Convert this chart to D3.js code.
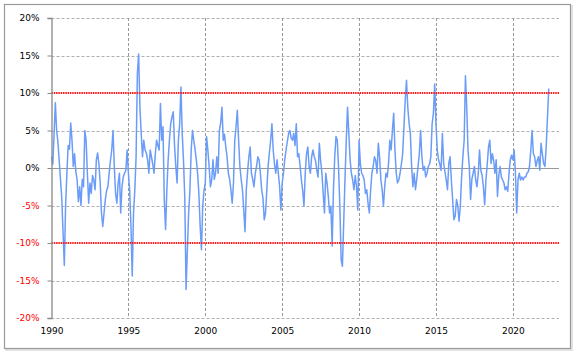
<!DOCTYPE html>
<html lang="en">
<head>
<meta charset="UTF-8">
<script src="https://d3js.org/d3.v7.min.js"></script>
<style>
  body { margin: 0; background: #fff; }
  svg text { font-family: "DejaVu Sans", Verdana, sans-serif; font-size: 9px; }
</style>
</head>
<body>
<script>
// monthly values (%), starting Jan 1990
const startYear = 1990;
const vals1990s = [
  1.5, 0.5, 4.5, 8.7, 5, 3.5, 1, -1.5, -4, -8.5, -13, -5,
  -0.7, 3, 2.5, 6, 3.7, 0.2, 1.9, -0.5, -1.6, -4.5, -2.5, -5,
  -1.5, -2.5, 5, 3.7, -0.7, -4.7, -2, -3.4, -1, -1.6, -2.9, 1.1,
  2, 0.5, -2, -6, -7.8, -6, -4.2, -3, -2.5, -0.7, 1, 2.4,
  5, 0.2, -3.4, -4.7, -2, -0.7, -6, -2.5, -1.2, -0.7, -0.3, 2.4,
  -0.7, -3, -7.8, -14.4, -6, -3, 1.5, 12.6, 15.2, 8, 4.6, 1.5,
  3.7, 2.4, 2, 1.1, -0.7, 2.4, 1.5, 0.5, -0.7, 1.9, 3.7, 3,
  2.4, 8.6, 3.7, 5.5, -4.2, -8.2, -2.9, 1, 3.7, 5.9, 6.8, 7.5,
  3, 0.2, -2, 3.7, 5.9, 10.8, 4.6, 1, -4, -16.2, -11, -6,
  -3, 2.4, 5, 3.7, 2.5, 1.1, -0.7, -3.4, -7.8, -10.9, -5.1, -3
];
const vals2000s = [
  -2, 4.2, 2.4, 0.2, -2.5, -1.6, 1.1, -1.5, -0.7, 1.5, -0.7, 5,
  6, 8.1, 3.7, 4.5, 2.8, 1.5, -0.7, -1.5, -2.9, -4.7, -2, 3.7,
  5.5, 7.7, 3.7, 0.2, -1.5, -2.9, -5.6, -8.5, -2.9, -0.5, 1.5, 2.8,
  -0.7, -1.5, -2.5, -0.7, 0.2, 1.5, 1.1, -0.7, -2.9, -4, -6.9, -6,
  -2.9, 0.2, 2, 3.7, 5.9, 2.4, 0.5, -0.7, 1.1, -0.7, -2.5, -5.6,
  -2, -0.7, 1.1, 2.4, 3.5, 4.6, 5, 4, 3.7, 4.6, 3, 5.9,
  1.5, 1.9, 0.2, -1.6, -3, -5.1, -0.7, 1.9, 2.8, 0.2, -0.7, 1.5,
  2.4, 1.5, 1, -0.3, -1.2, 3.3, 1, -0.7, -3.4, -6, -0.7, -2,
  -3.8, -6, -5.1, -10.4, -2.9, 1.5, 4.2, 3.7, 0, -5.1, -12.2, -13.1,
  -7.3, -1.6, 3.7, 8.1, 4.6, 1.1, -0.7, -1.6, -2.9, -1, -2.5, -5.6
];
const vals2010s = [
  3.7, 0.6, -0.7, -1, -1.6, -3.4, -2.9, -4.7, -6, -3, -0.7, 0.2,
  1.5, 1, -0.7, 3.3, 1.5, -1.6, -2.9, -5.1, -2.5, -0.7, -1.2, 0.6,
  3.7, 2.4, 5, 7.3, 2.4, -0.7, -2, -1.6, -0.7, 0.5, 1.9, 5.5,
  9, 11.7, 8.1, 6, 4.6, 0.2, -2.5, -0.7, -2.9, -1.5, 0.2, 1.9,
  5, 1.5, -0.3, 0.2, -1.2, -0.7, 0.2, 0.5, 1.5, 5.9, 7.3, 11.2,
  5.9, 2.4, 1.1, 0.5, -0.3, 4.6, 0.6, -0.5, -1.6, -2.9, 0.6, 1.5,
  -1.6, -4.2, -6.9, -6.4, -4.2, -5, -7.1, -5.1, -1.2, 1.5, 3.7, 12.3,
  8.1, 2.4, 0.2, -4.2, -1.5, -0.7, 0.2, -1.6, -2.5, -0.7, 2.4, -0.3,
  -1, -2.5, -4.9, -1.6, 0.5, 2.8, 3.7, 0.6, 1.9, 1, -0.7, 1.1,
  -3.8, -1, 0.2, -1.2, -1.6, -2, -2.9, -2.5, -3.1, -0.7, 1.1, 1.7
];
const vals2020s = [
  1.1, 2.4, -0.7, -6, -1.6, -0.7, -1.6, -1.2, -1.6, -1.2, -1.2, -0.7,
  -0.5, 0.2, 2.4, 5, 1.9, 1.5, 0.2, 1, 1.5, -0.3, 3.3, 1.9,
  0.6, 0.2, 2.8, 6.8, 10.6
];
const yTicks = [20, 15, 10, 5, 0, -5, -10, -15, -20];
const xTicks = [1990, 1995, 2000, 2005, 2010, 2015, 2020];
const limitLines = [10, -10];

const width = 576, height = 354;
const plot = { left: 51.5, right: 559, top: 18, bottom: 318 };

const series = vals1990s.concat(vals2000s, vals2010s, vals2020s)
  .map((v, i) => ({ t: startYear + i / 12, v: v }));

const x = d3.scaleLinear().domain([1990, 2023]).range([plot.left, plot.right]);
const y = d3.scaleLinear().domain([-20, 20]).range([plot.bottom, plot.top]);

const svg = d3.select("body").append("svg")
  .attr("width", width)
  .attr("height", height);

// frame with light shadow
svg.append("rect")
  .attr("x", 6).attr("y", 6).attr("width", 566).attr("height", 344)
  .attr("fill", "none").attr("stroke", "#dcdcdc").attr("stroke-width", 1.5);
svg.append("rect")
  .attr("x", 4.5).attr("y", 4.5).attr("width", 566).attr("height", 344)
  .attr("fill", "#fff").attr("stroke", "#999").attr("stroke-width", 1.2);

// horizontal grid
svg.append("g").selectAll("line")
  .data(yTicks.filter(d => d !== 0 && Math.abs(d) !== 10))
  .join("line")
  .attr("x1", plot.left).attr("x2", plot.right)
  .attr("y1", d => Math.round(y(d)) + 0.5).attr("y2", d => Math.round(y(d)) + 0.5)
  .attr("stroke", "#b0b0b0").attr("stroke-dasharray", "3,2");

// vertical grid
svg.append("g").selectAll("line")
  .data(xTicks.filter(d => d !== 1990))
  .join("line")
  .attr("x1", d => Math.round(x(d)) + 0.5).attr("x2", d => Math.round(x(d)) + 0.5)
  .attr("y1", plot.top).attr("y2", plot.bottom)
  .attr("stroke", "#999").attr("stroke-dasharray", "3,2");

// zero line
svg.append("line")
  .attr("x1", plot.left).attr("x2", plot.right)
  .attr("y1", Math.round(y(0)) + 0.5).attr("y2", Math.round(y(0)) + 0.5)
  .attr("stroke", "#999").attr("stroke-width", 1);

// series
const line = d3.line().x(d => x(d.t)).y(d => y(d.v));
svg.append("path")
  .datum(series)
  .attr("d", line)
  .attr("fill", "none")
  .attr("stroke", "#6b9cf8")
  .attr("stroke-width", 1.5)
  .attr("stroke-linejoin", "round");

// +/-10% limit lines
svg.append("g").selectAll("line")
  .data(limitLines)
  .join("line")
  .attr("x1", plot.left).attr("x2", plot.right)
  .attr("y1", d => y(d)).attr("y2", d => y(d))
  .attr("stroke", "#ff1a1a").attr("stroke-width", 2.2)
  .attr("stroke-dasharray", "1.5,0.8");

// y axis
const yAxis = svg.append("g")
  .attr("transform", `translate(${plot.left},0)`)
  .call(d3.axisLeft(y).tickValues(yTicks).tickSize(4).tickPadding(8)
    .tickFormat(d => d + "%"));
yAxis.select(".domain").attr("stroke", "#888").attr("stroke-width", 1.3);
yAxis.selectAll(".tick line").attr("stroke", "#888");
yAxis.selectAll(".tick text")
  .attr("fill", d => d < 0 ? "#ff0000" : "#000");

// x axis labels
const xAxis = svg.append("g")
  .attr("transform", `translate(0,${plot.bottom})`)
  .call(d3.axisBottom(x).tickValues(xTicks).tickSize(0).tickPadding(10)
    .tickFormat(d3.format("d")));
xAxis.select(".domain").remove();
xAxis.selectAll(".tick text").attr("fill", "#000");
</script>
</body>
</html>
